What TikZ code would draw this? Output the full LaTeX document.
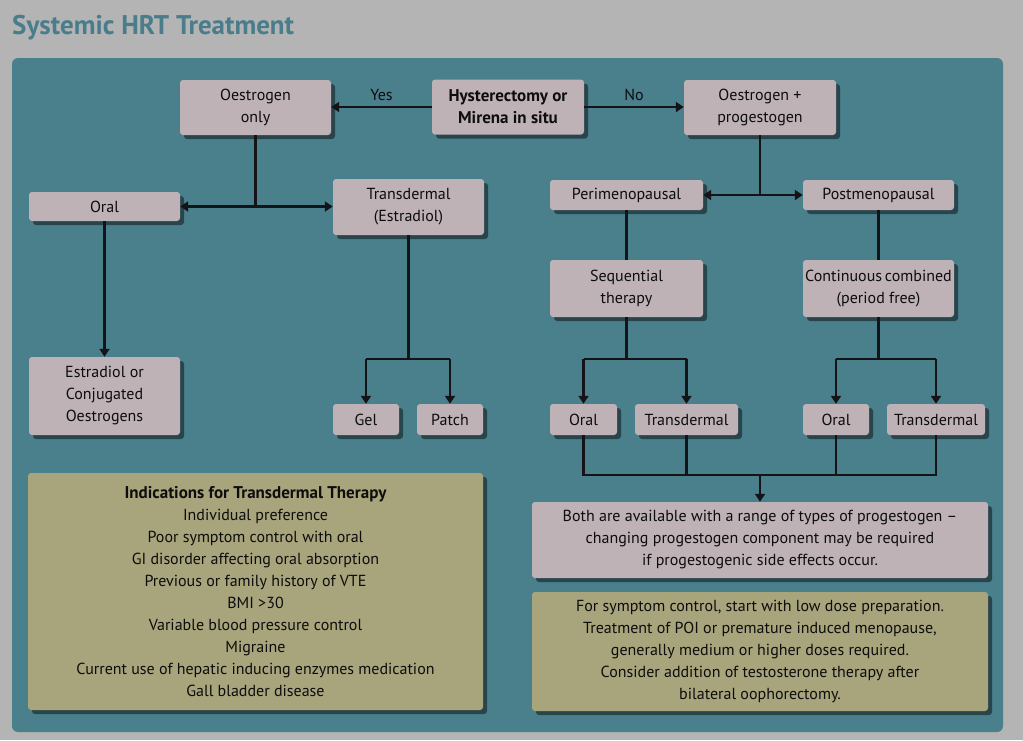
\documentclass[tikz,border=0pt]{standalone}
\usepackage{fontspec}
\setmainfont{PT Sans}
\usetikzlibrary{arrows.meta,shadows}
\definecolor{bgc}{RGB}{180,180,180}
\definecolor{panelc}{RGB}{74,127,140}
\definecolor{titlec}{RGB}{74,125,140}
\definecolor{boxc}{RGB}{190,178,183}
\definecolor{olivec}{RGB}{168,164,124}
\definecolor{linec}{RGB}{20,20,24}
\begin{document}
\begin{tikzpicture}[x=1pt,y=-1pt,
  box/.style={fill=boxc, rounded corners=3pt, inner sep=0pt, align=center,
    font=\fontsize{16}{22}\selectfont, text=black!95,
    drop shadow={shadow xshift=4pt, shadow yshift=-4pt, opacity=0.45, fill=black}},
  olive/.style={box, fill=olivec},
  conn/.style={draw=linec, line width=2.2pt},
  arr/.style={conn, -{Triangle[length=8pt,width=10pt]}},
  lbl/.style={font=\fontsize{16}{18}\selectfont, text=black!95, inner sep=0pt},
  bf/.style={font=\bfseries\fontsize{17}{22}\selectfont}]
\fill[bgc] (0,0) rectangle (1023,740);
\useasboundingbox (0,0) rectangle (1023,740);
\node[anchor=west, inner sep=0pt, font=\bfseries\fontsize{27}{30}\selectfont, text=titlec] (title) at (12,28) {Systemic HRT Treatment};
\fill[panelc, rounded corners=6pt] (12,58) rectangle (1003,732);

% top row
\node[box, minimum width=151, minimum height=55] (oonly) at (255.5,107.5) {Oestrogen\\only};
\node[box, bf, minimum width=152, minimum height=55] (hyst) at (508,107) {Hysterectomy or\\Mirena in situ};
\node[box, minimum width=152, minimum height=55] (oprog) at (760,107.5) {Oestrogen +\\progestogen};

% left branch
\node[box, minimum width=151, minimum height=29] (oralL) at (104.5,206.5) {Oral};
\node[box, minimum width=151, minimum height=56] (tdL) at (408.5,207) {Transdermal\\(Estradiol)};
\node[box, minimum width=151, minimum height=78] (estr) at (104.5,396) {Estradiol or\\Conjugated\\Oestrogens};
\node[box, minimum width=66, minimum height=31] (gel) at (366,419.5) {Gel};
\node[box, minimum width=66, minimum height=31] (patch) at (450,419.5) {Patch};

% right branch
\node[box, minimum width=153, minimum height=30] (peri) at (626.5,195) {Perimenopausal};
\node[box, minimum width=151, minimum height=30] (post) at (878.5,195) {Postmenopausal};
\node[box, minimum width=153, minimum height=57] (seq) at (626.5,288.5) {Sequential\\therapy};
\node[box, minimum width=151, minimum height=57] (cont) at (878.5,288.5) {{\spaceskip=0.18em Continuous combined}\\(period free)};
\node[box, minimum width=67, minimum height=31] (oralA) at (583.5,419.5) {Oral};
\node[box, minimum width=103, minimum height=31] (tdA) at (686.5,419.5) {Transdermal};
\node[box, minimum width=66, minimum height=31] (oralB) at (836,419.5) {Oral};
\node[box, minimum width=98, minimum height=31] (tdB) at (936,419.5) {Transdermal};

\node[box, minimum width=456, minimum height=76] (both) at (760,540) {Both are available with a range of types of progestogen –\\changing progestogen component may be required\\if progestogenic side effects occur.};
\node[olive, minimum width=456, minimum height=119] (dose) at (760,651.5) {For symptom control, start with low dose preparation.\\Treatment of POI or premature induced menopause,\\generally medium or higher doses required.\\Consider addition of testosterone therapy after\\bilateral oophorectomy.};
\node[olive, minimum width=455, minimum height=237] (ind) at (255.5,591.5) {{\bfseries\fontsize{17}{22}\selectfont Indications for Transdermal Therapy}\\Individual preference\\Poor symptom control with oral\\GI disorder affecting oral absorption\\Previous or family history of VTE\\BMI >30\\Variable blood pressure control\\Migraine\\Current use of hepatic inducing enzymes medication\\Gall bladder disease};

% connectors top
\draw[arr] (hyst.west) -- (oonly.east |- hyst.west) node[lbl, midway, above=5pt] (yes) {Yes};
\draw[arr] (hyst.east) -- (oprog.west |- hyst.east) node[lbl, midway, above=5pt] (no) {No};

\coordinate (j1) at (oonly.south |- oralL.east);
\draw[conn] (oonly.south) -- (j1);
\draw[arr] (j1) -- (oralL.east);
\draw[arr] (j1) -- (j1 -| tdL.west);
\draw[arr] (oralL.south) -- (estr.north);

\coordinate (j2) at (408.5,359);
\draw[conn] (tdL.south) -- (j2);
\draw[conn] (j2 -| gel.north) -- (j2 -| patch.north);
\draw[arr] (j2 -| gel.north) -- (gel.north);
\draw[arr] (j2 -| patch.north) -- (patch.north);

\coordinate (j3) at (oprog.south |- peri.east);
\draw[conn] (oprog.south) -- (j3);
\draw[arr] (j3) -- (peri.east);
\draw[arr] (j3) -- (post.west);
\draw[conn] (peri.south) -- (seq.north);
\draw[conn] (post.south) -- (cont.north);

\coordinate (j4) at (626.5,359);
\draw[conn] (seq.south) -- (j4);
\draw[conn] (j4 -| oralA.north) -- (j4 -| tdA.north);
\draw[arr] (j4 -| oralA.north) -- (oralA.north);
\draw[arr] (j4 -| tdA.north) -- (tdA.north);

\coordinate (j5) at (878.5,359);
\draw[conn] (cont.south) -- (j5);
\draw[conn] (j5 -| oralB.north) -- (j5 -| tdB.north);
\draw[arr] (j5 -| oralB.north) -- (oralB.north);
\draw[arr] (j5 -| tdB.north) -- (tdB.north);

\coordinate (j6) at (760,475);
\draw[conn] (oralA.south) -- (oralA.south |- j6) -- (tdB.south |- j6) -- (tdB.south);
\draw[conn] (tdA.south) -- (tdA.south |- j6);
\draw[conn] (oralB.south) -- (oralB.south |- j6);
\draw[arr] (j6) -- (both.north);
\end{tikzpicture}
\end{document}
